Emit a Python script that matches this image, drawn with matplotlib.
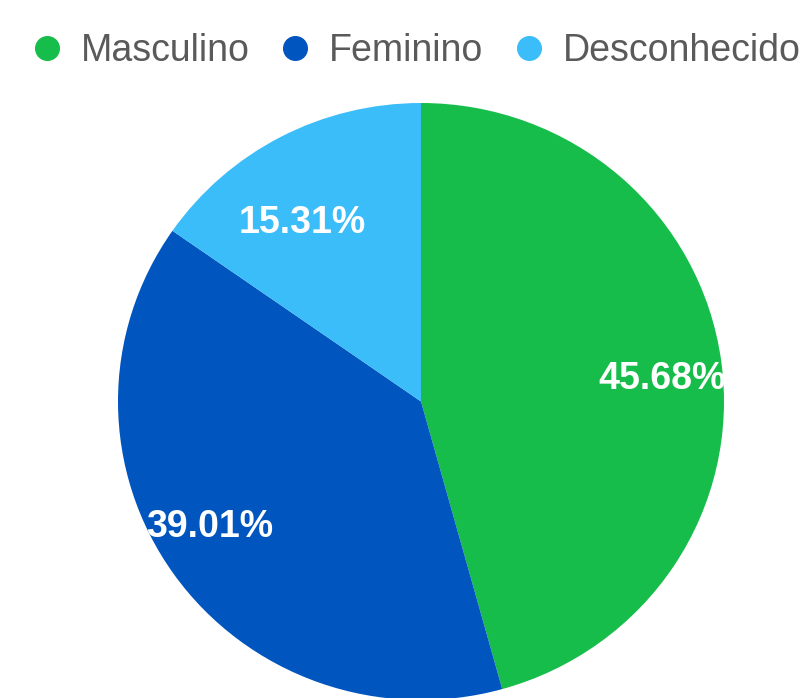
import numpy as np
import matplotlib
matplotlib.use("Agg")
import matplotlib.pyplot as plt
from matplotlib.lines import Line2D
from matplotlib.patches import Circle

# data
labels = ["Masculino", "Feminino", "Desconhecido"]
values = [45.68, 39.01, 15.31]
colors = ["#16bd4a", "#0055bf", "#3bbdfa"]
# label placement (radius as fraction of pie, angle nudge in degrees)
label_radius = [0.80, 0.815, 0.715]
label_nudge = [-2.3, -4.2, 5.8]

W, H = 811, 698
fig = plt.figure(figsize=(W / 100, H / 100), dpi=100)

# pie area in pixels: left 118, right 724, top 103, bottom 700
x0, x1, top, bot = 118, 724, 103, 700
ax = fig.add_axes([x0 / W, (H - bot) / H, (x1 - x0) / W, (bot - top) / H])

wedges, _ = ax.pie(values, colors=colors, startangle=90, counterclock=False,
                   radius=1.0, wedgeprops=dict(linewidth=0))
ax.set_aspect("auto")
ax.set_xlim(-1, 1)
ax.set_ylim(-1, 1)
ax.axis("off")

clip = Circle((0, 0), 1.0, transform=ax.transData)

total = sum(values)
start = 90.0
for v, r, d in zip(values, label_radius, label_nudge):
    span = v / total * 360
    mid = np.deg2rad(start - span / 2 + d)
    start -= span
    t = ax.text(r * np.cos(mid), r * np.sin(mid), f"{v:.2f}%",
                ha="center", va="center", color="white", fontsize=27,
                fontweight="bold", family="Liberation Sans")
    t.set_clip_path(clip)

handles = [Line2D([], [], marker="o", linestyle="none", markersize=17,
                  markerfacecolor=c, markeredgecolor=c) for c in colors]
fig.legend(handles, labels, loc="center left", ncol=3, frameon=False,
           bbox_to_anchor=(28 / W, 1 - 51 / H), borderaxespad=0, borderpad=0,
           handlelength=1.0, handletextpad=0.4, columnspacing=0.72,
           prop=dict(family="Liberation Sans", size=27), labelcolor="#5a5a5a")

fig.savefig("out.png", dpi=100)
